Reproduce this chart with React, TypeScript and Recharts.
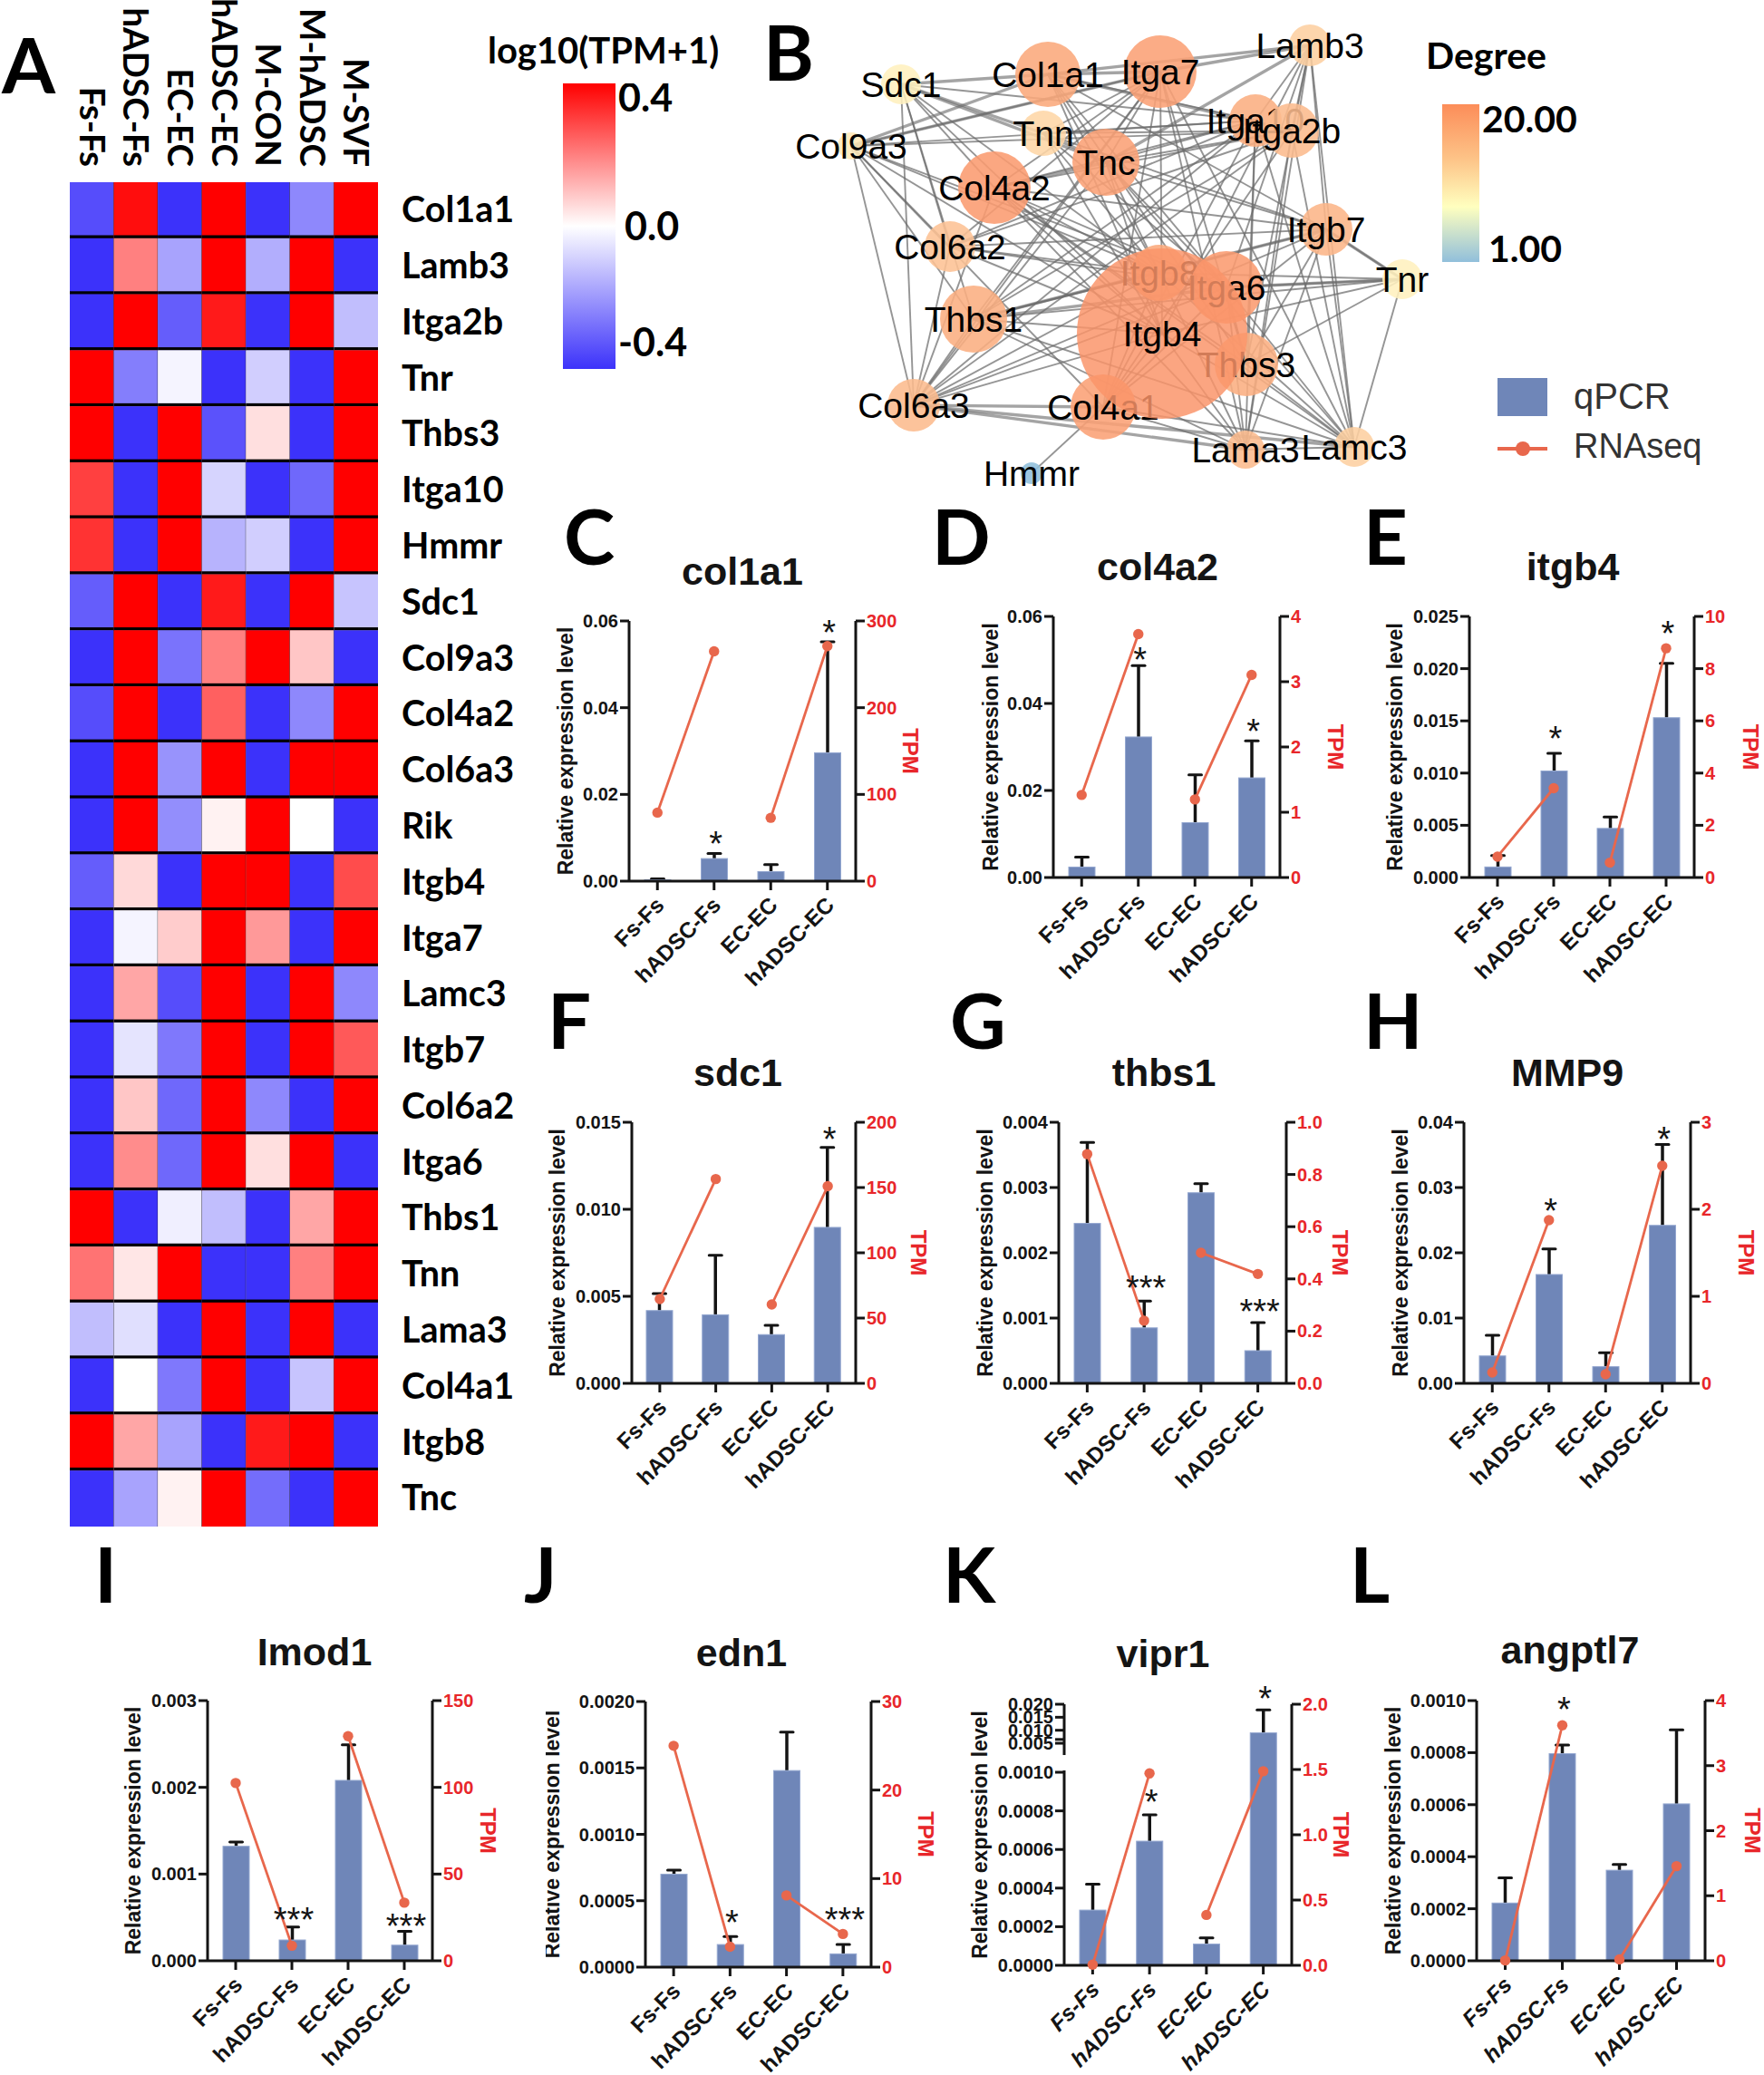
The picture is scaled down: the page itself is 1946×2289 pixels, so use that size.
import React from "react";
import {
  Bar, BarChart, ComposedChart, Line, ReferenceDot, Scatter, ScatterChart, XAxis, YAxis,
} from "recharts";

const ARIAL = '"Liberation Sans", Arial, sans-serif';
const LATO = "Lato, sans-serif";
const BAR_BLUE = "#6f86b8";
const LINE_ORANGE = "#e8674c";
const TICK_RED = "#e8262a";
const INK = "#141414";

// ---------- heatmap (panel A) ----------
const HEAT_COLUMNS = ["Fs-Fs", "hADSC-Fs", "EC-EC", "hADSC-EC", "M-CON", "M-hADSC", "M-SVF"];
const HEAT_GENES = [
  "Col1a1", "Lamb3", "Itga2b", "Tnr", "Thbs3", "Itga10", "Hmmr", "Sdc1", "Col9a3", "Col4a2", "Col6a3", "Rik",
  "Itgb4", "Itga7", "Lamc3", "Itgb7", "Col6a2", "Itga6", "Thbs1", "Tnn", "Lama3", "Col4a1", "Itgb8", "Tnc",
];
const HEAT_VALUES = [
  [-0.33, 0.38, -0.38, 0.4, -0.38, -0.22, 0.4],
  [-0.38, 0.2, -0.17, 0.4, -0.15, 0.4, -0.38],
  [-0.38, 0.4, -0.3, 0.36, -0.38, 0.4, -0.12],
  [0.4, -0.24, -0.02, -0.38, -0.09, -0.38, 0.4],
  [0.4, -0.38, 0.4, -0.32, 0.05, -0.38, 0.4],
  [0.3, -0.38, 0.4, -0.08, -0.38, -0.28, 0.4],
  [0.32, -0.38, 0.4, -0.14, -0.09, -0.38, 0.4],
  [-0.3, 0.4, -0.38, 0.36, -0.38, 0.4, -0.11],
  [-0.38, 0.4, -0.26, 0.2, 0.4, 0.09, -0.38],
  [-0.33, 0.4, -0.38, 0.25, -0.38, -0.22, 0.4],
  [-0.38, 0.4, -0.2, 0.4, -0.38, 0.4, 0.4],
  [-0.38, 0.4, -0.21, 0.02, 0.4, 0, -0.38],
  [-0.3, 0.06, -0.38, 0.4, 0.4, -0.38, 0.28],
  [-0.38, -0.02, 0.08, 0.4, 0.16, -0.38, 0.4],
  [-0.38, 0.14, -0.33, 0.4, -0.38, 0.4, -0.22],
  [-0.38, -0.05, -0.25, 0.4, -0.38, 0.4, 0.26],
  [-0.38, 0.09, -0.28, 0.4, -0.22, -0.38, 0.4],
  [-0.38, 0.18, -0.28, 0.4, 0.05, 0.4, -0.38],
  [0.4, -0.38, -0.03, -0.12, -0.38, 0.14, 0.4],
  [0.22, 0.04, 0.4, -0.38, -0.38, 0.2, 0.4],
  [-0.12, -0.06, -0.38, 0.4, -0.38, 0.4, -0.38],
  [-0.38, 0, -0.25, 0.4, -0.38, -0.11, 0.4],
  [0.4, 0.14, -0.17, -0.38, 0.36, 0.4, -0.38],
  [-0.38, -0.17, 0.02, 0.4, -0.27, -0.38, 0.4],
];
const HEAT_COLUMN_TICKS = [0.5, 1.5, 2.5, 3.5, 4.5, 5.5, 6.5];
const HEAT_LEGEND_TICKS = [0.4, 0, -0.4];
const DEGREE_LEGEND_TICKS = [20, 1];

// ---------- network (panel B) ----------
// drawn back to front, labels of lower nodes show through the upper ones
const NODE_NAMES = [
  "Sdc1", "Col9a3", "Lamb3", "Tnn", "Col1a1", "Itga7", "Itga10", "Itga2b", "Tnc", "Col4a2", "Col6a2", "Itgb7",
  "Tnr", "Thbs1", "Col6a3", "Lama3", "Lamc3", "Hmmr", "Itgb8", "Itga6", "Thbs3", "Col4a1", "Itgb4",
];
const NODE_X = [994, 939, 1445, 1151, 1156, 1280, 1385, 1425, 1220, 1097, 1048, 1463, 1547, 1074, 1008, 1374, 1494, 1138, 1279, 1353, 1375, 1217, 1282];
const NODE_Y = [93, 161, 50, 147, 82, 79, 133, 144, 179, 207, 272, 253, 308, 352, 447, 496, 493, 522, 301, 317, 402, 449, 368];
const NODE_SIZE = [22, 15, 23, 25, 36, 40, 29, 30, 37, 40, 28, 29, 22, 37, 29, 21, 22, 12, 31, 40, 35, 36, 94];
const NODE_DEGREE = [6, 7, 11, 10, 17, 18, 16, 14, 18, 19, 13, 15, 6, 16, 14, 14, 11, 1, 17, 19, 16, 18, 20];
const EDGES_LIGHT: [string, string[]][] = [
  ["Itga7", ["Col9a3", "Tnn", "Tnc", "Col4a2", "Col6a2", "Thbs1", "Thbs3", "Col6a3", "Col4a1", "Lama3", "Lamc3"]],
  ["Itga10", ["Col1a1", "Lamb3", "Col9a3", "Tnn", "Tnc", "Col4a2", "Col6a2", "Thbs1", "Thbs3", "Col6a3", "Col4a1", "Lama3", "Lamc3"]],
  ["Itga2b", ["Lamb3", "Col9a3", "Tnn", "Tnc", "Col4a2", "Col6a2", "Thbs1", "Col6a3", "Col4a1", "Lama3", "Lamc3"]],
  ["Itgb7", ["Col1a1", "Lamb3", "Tnn", "Tnc", "Tnr", "Col4a2", "Col6a2", "Thbs1", "Thbs3", "Col6a3", "Col4a1", "Lama3", "Lamc3"]],
  ["Itgb8", ["Col1a1", "Col9a3", "Tnn", "Tnc", "Tnr", "Col4a2", "Col6a2", "Thbs1", "Col6a3", "Col4a1", "Lama3", "Lamc3", "Sdc1"]],
  ["Itga6", ["Col1a1", "Lamb3", "Col9a3", "Tnn", "Tnc", "Tnr", "Col4a2", "Col6a2", "Thbs3", "Col6a3", "Col4a1", "Lama3", "Lamc3"]],
  ["Itgb4", ["Col1a1", "Lamb3", "Col9a3", "Tnn", "Tnc", "Tnr", "Col4a2", "Col6a2", "Thbs1", "Col6a3", "Col4a1", "Lama3", "Lamc3", "Sdc1", "Itga7"]],
  ["Sdc1", ["Col6a3", "Col4a2", "Col6a2", "Thbs1", "Itga10"]],
  ["Col9a3", ["Col6a3", "Col6a2", "Thbs1", "Col4a1"]],
  ["Lamc3", ["Lamb3", "Tnr", "Col4a1", "Col4a2", "Tnc", "Thbs1", "Thbs3"]],
  ["Lama3", ["Lamb3", "Col4a1", "Col4a2", "Lamc3", "Thbs1"]],
  ["Col6a3", ["Thbs1", "Col6a2", "Col4a2", "Tnc"]],
  ["Tnr", ["Thbs1", "Thbs3"]],
  ["Thbs3", ["Col4a2", "Col1a1", "Lamb3"]],
  ["Hmmr", ["Col4a1"]],
];
const EDGES_HEAVY: [string, string[]][] = [
  ["Col9a3", ["Col1a1", "Itga7"]],
  ["Sdc1", ["Col1a1", "Tnc", "Tnn"]],
  ["Lamb3", ["Col1a1", "Itga7", "Tnc"]],
  ["Col1a1", ["Itga7", "Itga2b"]],
  ["Col6a3", ["Col4a1", "Lama3", "Lamc3"]],
  ["Thbs1", ["Itga6", "Itgb7"]],
  ["Tnr", ["Itga6", "Itgb7"]],
  ["Tnc", ["Col4a2", "Tnn"]],
];

// ---------- bar / line panels ----------
const GROUPS = ["Fs-Fs", "hADSC-Fs", "EC-EC", "hADSC-EC"];

const COL1A1_QPCR = [0.0003, 0.0052, 0.0022, 0.0296];
const COL1A1_ERR = [0.0002, 0.0012, 0.0016, 0.0256];
const COL1A1_RNA = [79, 265, 73, 271];

const COL4A2_QPCR = [0.0024, 0.0323, 0.0126, 0.0229];
const COL4A2_ERR = [0.0023, 0.0164, 0.011, 0.0085];
const COL4A2_RNA = [1.265, 3.73, 1.196, 3.105];

const ITGB4_QPCR = [0.00101, 0.0102, 0.0047, 0.0153];
const ITGB4_ERR = [0.0011, 0.0017, 0.0011, 0.0052];
const ITGB4_RNA = [0.8, 3.42, 0.57, 8.78];

const SDC1_QPCR = [0.00418, 0.00394, 0.0028, 0.00896];
const SDC1_ERR = [0.00098, 0.00342, 0.00053, 0.0046];
const SDC1_RNA = [64.6, 156.5, 60.4, 151];

const THBS1_QPCR = [0.00245, 0.00085, 0.00292, 0.0005];
const THBS1_ERR = [0.00124, 0.00041, 0.00014, 0.00043];
const THBS1_RNA = [0.878, 0.24, 0.5, 0.419];

const MMP9_QPCR = [0.0042, 0.01667, 0.00255, 0.0242];
const MMP9_ERR = [0.00316, 0.00393, 0.00215, 0.0124];
const MMP9_RNA = [0.125, 1.875, 0.104, 2.5];

const IMOD1_QPCR = [0.00132, 0.00024, 0.00208, 0.00018];
const IMOD1_ERR = [0.00005, 0.00015, 0.00041, 0.00016];
const IMOD1_RNA = [102.5, 8.7, 129.5, 33.5];

const EDN1_QPCR = [0.0007, 0.00017, 0.00148, 0.0001];
const EDN1_ERR = [0.00003, 0.00006, 0.00029, 0.00007];
const EDN1_RNA = [25, 2.3, 8.1, 3.75];

const VIPR1_QPCR = [0.000286, 0.000643, 0.00011, 0.009];
const VIPR1_ERR = [0.000134, 0.000137, 0.000032, 0.0088];
const VIPR1_RNA = [0.005, 1.47, 0.386, 1.487];

const ANGPTL7_QPCR = [0.000222, 0.000796, 0.000348, 0.000603];
const ANGPTL7_ERR = [0.000097, 0.000033, 0.000022, 0.000285];
const ANGPTL7_RNA = [0.005, 3.62, 0.02, 1.455];

// vipr1 has a broken left axis: below the break 0.001 = 213 px, above it the scale is compressed
const breakY = (v: number) => (v <= 0.00117 ? v * 213000 : 234 + (v - 0.00117) * 2870);
const VIPR1_TICKS = [0, 0.0002, 0.0004, 0.0006, 0.0008, 0.001, 0.00117, 0.005, 0.01, 0.015, 0.02];
const VIPR1_TICK_LABELS = ["0.0000", "0.0002", "0.0004", "0.0006", "0.0008", "0.0010", "", "0.005", "0.010", "0.015", "0.020"];

const range = (values: number[], digits: number) => ({ ticks: values, labels: values.map((v) => v.toFixed(digits)) });

const PANELS: any[] = [
  { title: "col1a1", qpcr: COL1A1_QPCR, err: COL1A1_ERR, rna: COL1A1_RNA, left: range([0, 0.02, 0.04, 0.06], 2), right: range([0, 100, 200, 300], 0),
    stars: [[1, 0.0104, "*"], [3, 0.059, "*"]], box: [694, 944, 685, 972], relDx: -70, tpmDx: 61, titleX: 819, titleY: 645 },
  { title: "col4a2", qpcr: COL4A2_QPCR, err: COL4A2_ERR, rna: COL4A2_RNA, left: range([0, 0.02, 0.04, 0.06], 2), right: range([0, 1, 2, 3, 4], 0),
    stars: [[1, 0.0518, "*"], [3, 0.0353, "*"]], box: [1162, 1412, 680, 968], relDx: -69, tpmDx: 62, titleX: 1277, titleY: 640 },
  { title: "itgb4", qpcr: ITGB4_QPCR, err: ITGB4_ERR, rna: ITGB4_RNA, left: range([0, 0.005, 0.01, 0.015, 0.02, 0.025], 3), right: range([0, 2, 4, 6, 8, 10], 0),
    stars: [[1, 0.014, "*"], [3, 0.0241, "*"]], box: [1621, 1869, 680, 968], relDx: -82, tpmDx: 63, titleX: 1735, titleY: 640 },
  { title: "sdc1", qpcr: SDC1_QPCR, err: SDC1_ERR, rna: SDC1_RNA, left: range([0, 0.005, 0.01, 0.015], 3), right: range([0, 50, 100, 150, 200], 0),
    stars: [[3, 0.01444, "*"]], box: [697, 944, 1238, 1526], relDx: -82, tpmDx: 70, titleX: 814, titleY: 1198 },
  { title: "thbs1", qpcr: THBS1_QPCR, err: THBS1_ERR, rna: THBS1_RNA, left: range([0, 0.001, 0.002, 0.003, 0.004], 3), right: range([0, 0.2, 0.4, 0.6, 0.8, 1], 1),
    stars: [[1, 0.00158, "***"], [3, 0.00121, "***"]], box: [1168, 1419, 1238, 1526], relDx: -81, tpmDx: 60, titleX: 1284, titleY: 1198 },
  { title: "MMP9", qpcr: MMP9_QPCR, err: MMP9_ERR, rna: MMP9_RNA, left: range([0, 0.01, 0.02, 0.03, 0.04], 2), right: range([0, 1, 2, 3], 0),
    stars: [[1, 0.0276, "*"], [3, 0.0385, "*"]], box: [1615, 1865, 1238, 1526], relDx: -70, tpmDx: 62, titleX: 1729, titleY: 1198 },
  { title: "Imod1", qpcr: IMOD1_QPCR, err: IMOD1_ERR, rna: IMOD1_RNA, left: range([0, 0.001, 0.002, 0.003], 3), right: range([0, 50, 100, 150], 0),
    stars: [[1, 0.00056, "***"], [3, 0.00049, "***"]], box: [229, 477, 1876, 2163], relDx: -82, tpmDx: 62, titleX: 347, titleY: 1837 },
  { title: "edn1", qpcr: EDN1_QPCR, err: EDN1_ERR, rna: EDN1_RNA, left: range([0, 0.0005, 0.001, 0.0015, 0.002], 4), right: range([0, 10, 20, 30], 0),
    stars: [[1, 0.00039, "*"], [3, 0.00041, "***"]], box: [712, 961, 1877, 2170], relDx: -103, tpmDx: 61, titleX: 818, titleY: 1838 },
  { title: "vipr1", qpcr: VIPR1_QPCR, err: VIPR1_ERR, rna: VIPR1_RNA, left: { ticks: VIPR1_TICKS, labels: VIPR1_TICK_LABELS }, right: range([0, 0.5, 1, 1.5, 2], 1),
    stars: [[1, 0.000883, "*"], [3, 0.0249, "*"]], box: [1174, 1425, 1880, 2168], relDx: -93, tpmDx: 55, titleX: 1283, titleY: 1839, yMap: breakY, leftMax: 0.02, italic: true, breakAt: "0.0010" },
  { title: "angptl7", qpcr: ANGPTL7_QPCR, err: ANGPTL7_ERR, rna: ANGPTL7_RNA, left: range([0, 0.0002, 0.0004, 0.0006, 0.0008, 0.001], 4), right: range([0, 1, 2, 3, 4], 0),
    stars: [[1, 0.000993, "*"]], box: [1629, 1881, 1876, 2163], relDx: -92, tpmDx: 53, titleX: 1732, titleY: 1835, italic: true },
];

const PANEL_LETTERS: [string, number, number][] = [
  ["A", 2, 103], ["B", 842, 89], ["C", 622, 623], ["D", 1028, 623], ["E", 1504, 623], ["F", 604, 1157],
  ["G", 1048, 1157], ["H", 1504, 1157], ["I", 104, 1768], ["J", 578, 1768], ["K", 1040, 1768], ["L", 1489, 1768],
];

// ---------- colours ----------
const mix = (a: number[], b: number[], t: number) => {
  const k = Math.max(0, Math.min(1, t));
  return `rgb(${a.map((c, i) => Math.round(c + (b[i] - c) * k)).join(",")})`;
};
const heatColor = (v: number) =>
  v >= 0 ? mix([255, 255, 255], [255, 0, 0], v / 0.4) : mix([255, 255, 255], [60, 50, 250], -v / 0.38);
const nodeColor = (degree: number) =>
  degree <= 6 ? mix([145, 191, 219], [255, 240, 190], (degree - 1) / 5) : mix([255, 240, 190], [250, 148, 105], (degree - 6) / 14);

// ---------- heatmap ----------
const HeatCell = ({ x, y, width, height, index, column }: any) => (
  <g>
    <rect x={x} y={y} width={width} height={height} fill={heatColor(HEAT_VALUES[index][column])} />
    {column < 6 && <line x1={x + width} x2={x + width} y1={y} y2={y + height} stroke="#222" strokeOpacity={0.75} />}
    {index < HEAT_GENES.length - 1 && <rect x={x} y={y + height - 3.5} width={width} height={3.5} fill="#000" />}
  </g>
);

const HeatColumnTick = ({ x, y, payload }: any) => (
  <text
    transform={`rotate(90 ${x} ${y - 17})`}
    x={x} y={y - 17} dy="0.35em"
    textAnchor="end" fontFamily={LATO} fontWeight={700} fontSize={38.5} fill="#000"
  >
    {HEAT_COLUMNS[payload.value - 0.5]}
  </text>
);

function Heatmap() {
  const rows = HEAT_GENES.map((gene) => {
    const row: any = { gene };
    HEAT_COLUMNS.forEach((_, j) => { row[`c${j}`] = 1; });
    return row;
  });
  return (
    <div style={{ position: "absolute", left: 0, top: 0 }}>
      <BarChart width={620} height={1684} data={rows} layout="vertical" barCategoryGap={0} margin={{ top: 0, right: 0, bottom: 0, left: 77 }}>
        <XAxis
          type="number" orientation="top" height={201} domain={[0, 7]} ticks={HEAT_COLUMN_TICKS}
          axisLine={false} tickLine={false} tickSize={0} tickMargin={0} tick={(p: any) => <HeatColumnTick {...p} />} interval={0}
        />
        <YAxis
          type="category" dataKey="gene" orientation="right" width={203} interval={0}
          axisLine={false} tickLine={false} tickSize={0} tickMargin={26}
          tick={({ x, y, payload }: any) => (
            <text x={x} y={y - 0.5} dy="0.35em" fontFamily={LATO} fontWeight={700} fontSize={39.5} fill="#000">{payload.value}</text>
          )}
        />
        {HEAT_COLUMNS.map((_, j) => (
          <Bar key={j} dataKey={`c${j}`} stackId="heat" isAnimationActive={false}
            shape={(p: any) => <HeatCell {...p} column={j} />} />
        ))}
      </BarChart>
    </div>
  );
}

// ---------- colour bars ----------
function ColorBar({ id, stops, domain, ticks, box, digits, tickX, tickY, fontSize }: any) {
  const [x0, x1, y0, y1] = box;
  const data = [{ name: id, span: domain }];
  return (
    <div style={{ position: "absolute", left: x0, top: y0 }}>
      <BarChart width={x1 - x0 + 140} height={y1 - y0} data={data} barCategoryGap={0} margin={{ top: 0, right: 0, bottom: 0, left: 0 }}>
        <defs>
          <linearGradient id={id} x1="0" y1="0" x2="0" y2="1">
            {stops.map(([offset, color]: any) => <stop key={offset} offset={offset} stopColor={color} />)}
          </linearGradient>
        </defs>
        <XAxis dataKey="name" hide />
        <YAxis
          orientation="right" width={140} type="number" domain={domain} ticks={ticks} interval={0}
          axisLine={false} tickLine={false}
          tick={({ y, payload, x }: any) => (
            <text x={x - 5 + tickX(payload.value)} y={y + tickY(payload.value)} dy="0.35em" fontFamily={LATO} fontWeight={700} fontSize={fontSize} fill="#000">
              {payload.value.toFixed(digits)}
            </text>
          )}
        />
        <Bar dataKey="span" fill={`url(#${id})`} isAnimationActive={false} />
      </BarChart>
    </div>
  );
}

// ---------- network ----------
const NetworkNode = ({ cx, cy, payload }: any) => (
  <g>
    <circle cx={cx} cy={cy} r={payload.size} fill={nodeColor(payload.degree)} fillOpacity={payload.name === "Itgb4" ? 0.84 : 0.88} />
    <text x={cx} y={cy} dy="0.35em" textAnchor="middle" fontFamily={ARIAL} fontSize={39} fill="#000">{payload.name}</text>
  </g>
);

function Network() {
  const nodes = NODE_NAMES.map((name, i) => ({ name, x: NODE_X[i], y: NODE_Y[i], size: NODE_SIZE[i], degree: NODE_DEGREE[i] }));
  const find = (name: string) => nodes.find((n) => n.name === name);
  const expand = (list: [string, string[]][]) =>
    list.flatMap(([source, targets]) => targets.map((t) => [find(source), find(t)]));
  const edgeSeries = (list: [string, string[]][], width: number, opacity: number, prefix: string) =>
    expand(list).map((pair, i) => (
      <Scatter key={`${prefix}${i}`} data={pair} isAnimationActive={false} legendType="none"
        line={{ stroke: "#6c6c6c", strokeWidth: width, strokeOpacity: opacity }} shape={() => <g />} />
    ));
  return (
    <div style={{ position: "absolute", left: 850, top: 0 }}>
      <ScatterChart width={760} height={560} margin={{ top: 0, right: 0, bottom: 0, left: 0 }}>
        <XAxis type="number" dataKey="x" domain={[850, 1610]} hide />
        <YAxis type="number" dataKey="y" domain={[0, 560]} reversed hide />
        {edgeSeries(EDGES_LIGHT, 1.9, 0.72, "light")}
        {edgeSeries(EDGES_HEAVY, 3.4, 0.62, "heavy")}
        <Scatter data={nodes} isAnimationActive={false} shape={(p: any) => <NetworkNode {...p} />} />
      </ScatterChart>
    </div>
  );
}

// ---------- qPCR + RNAseq panel ----------
const ExpressionBar = ({ x, y, width, height, payload }: any) => {
  const perUnit = payload.qpcr > 0 ? height / payload.qpcr : 0;
  const top = y + height - payload.whisker * perUnit;
  const mid = x + width / 2;
  return (
    <g>
      <line x1={mid} x2={mid} y1={y} y2={top} stroke={INK} strokeWidth={3.5} />
      <line x1={mid - 7} x2={mid + 7} y1={top} y2={top} stroke={INK} strokeWidth={3} strokeLinecap="round" />
      <rect x={x} y={y} width={width} height={height} fill={BAR_BLUE} stroke="#94a7d0" strokeWidth={1} />
    </g>
  );
};

function ExpressionPanel({ panel }: any) {
  const { qpcr, err, rna, left, right, stars, box, relDx, tpmDx, yMap, italic, breakAt } = panel;
  const [x0, x1, y0, y1] = box;
  const map = yMap || ((v: number) => v);
  const leftTicks = left.ticks.map(map);
  const leftMax = map(panel.leftMax ?? left.ticks[left.ticks.length - 1]);
  const rows = GROUPS.map((group, i) => ({
    group,
    qpcr: map(qpcr[i]),
    whisker: map(qpcr[i] + err[i]),
    rnaA: i < 2 ? rna[i] : null,
    rnaB: i >= 2 ? rna[i] : null,
  }));
  const axisW = 110;
  const topPad = 30;
  const bottomH = 160;
  const lineProps = {
    yAxisId: "right", type: "linear" as const, stroke: LINE_ORANGE, strokeWidth: 2.8, connectNulls: false,
    dot: { r: 5.7, fill: LINE_ORANGE, stroke: "none" }, isAnimationActive: false,
  };
  return (
    <div style={{ position: "absolute", left: x0 - axisW, top: y0 - topPad }}>
      <ComposedChart width={x1 - x0 + 2 * axisW} height={y1 - y0 + topPad + bottomH} data={rows} margin={{ top: topPad, right: 0, bottom: 0, left: 0 }}>
        <XAxis
          dataKey="group" height={bottomH} interval={0} stroke={INK} strokeWidth={3} tickSize={10}
          tick={({ x, y, payload }: any) => (
            <text transform={`rotate(-45 ${x + 9} ${y + 16})`} x={x + 9} y={y + 16} textAnchor="end"
              fontFamily={ARIAL} fontWeight={700} fontStyle={italic ? "italic" : "normal"} fontSize={24.5} fill={INK}>
              {payload.value}
            </text>
          )}
        />
        <YAxis
          yAxisId="left" width={axisW} type="number" domain={[0, leftMax]} ticks={leftTicks} interval={0}
          stroke={INK} strokeWidth={3} tickSize={10}
          tick={({ x, y, index }: any) => (
            <g>
              {left.labels[index] === breakAt && <rect x={x + 8} y={y - 19} width={8} height={17} fill="#fff" />}
              <text x={x} y={y} dy="0.35em" textAnchor="end" fontFamily={ARIAL} fontWeight={700} fontSize={20} fill={INK}>
                {left.labels[index]}
              </text>
            </g>
          )}
          label={{ value: "Relative expression level", angle: -90, position: "center", dx: relDx + axisW / 2, fontFamily: ARIAL, fontWeight: 700, fontSize: 23, fill: INK }}
        />
        <YAxis
          yAxisId="right" orientation="right" width={axisW} type="number" domain={[0, right.ticks[right.ticks.length - 1]]} ticks={right.ticks} interval={0}
          stroke={INK} strokeWidth={3} tickSize={10}
          tick={({ x, y, index }: any) => (
            <text x={x} y={y} dy="0.35em" textAnchor="start" fontFamily={ARIAL} fontWeight={700} fontSize={20} fill={TICK_RED}>
              {right.labels[index]}
            </text>
          )}
          label={{ value: "TPM", angle: 90, position: "center", dx: tpmDx - axisW / 2, fontFamily: ARIAL, fontWeight: 700, fontSize: 24, fill: TICK_RED }}
        />
        <Bar yAxisId="left" dataKey="qpcr" barSize={29} isAnimationActive={false} shape={(p: any) => <ExpressionBar {...p} />} />
        <Line {...lineProps} dataKey="rnaA" />
        <Line {...lineProps} dataKey="rnaB" />
        {stars.map(([group, value, text]: any) => (
          <ReferenceDot key={group} yAxisId="left" x={GROUPS[group]} y={map(value)} r={0} ifOverflow="visible"
            label={{ value: text, position: "center", dy: 8, dx: 2, fontFamily: ARIAL, fontSize: 38, fill: INK }} />
        ))}
      </ComposedChart>
    </div>
  );
}

// ---------- page ----------
export default function App() {
  return (
    <div style={{ position: "absolute", left: 0, top: 0, width: 1946, height: 2289, background: "#fff", overflow: "hidden" }}>
      <Heatmap />
      <ColorBar id="heatGrad" box={[621, 679, 92, 407]} domain={[-0.486, 0.447]} ticks={HEAT_LEGEND_TICKS} digits={1} fontSize={43}
        tickX={(v: number) => (v === 0 ? 7 : 0)} tickY={(v: number) => (v === 0 ? 7 : 0)}
        stops={[["0", "#ff0000"], ["0.5", "#ffffff"], ["1", "#3c32fa"]]} />
      <Network />
      <ColorBar id="degreeGrad" box={[1591, 1632, 115, 289]} domain={[-1, 22.1]} ticks={DEGREE_LEGEND_TICKS} digits={2} fontSize={41}
        tickX={(v: number) => (v === 1 ? 7 : 0)} tickY={() => 1}
        stops={[["0", "#fc8d59"], ["0.35", "#fdc488"], ["0.65", "#ffffbf"], ["1", "#91bfdb"]]} />
      {PANELS.map((panel) => <ExpressionPanel key={panel.title} panel={panel} />)}

      <svg width={1946} height={2289} style={{ position: "absolute", left: 0, top: 0, pointerEvents: "none" }}>
        {PANEL_LETTERS.map(([letter, x, y]) => (
          <text key={letter} x={x} y={y} fontFamily={LATO} fontWeight={700} fontSize={85} fill="#000">{letter}</text>
        ))}
        {PANELS.map((p) => (
          <text key={p.title} x={p.titleX} y={p.titleY} textAnchor="middle" fontFamily={ARIAL} fontWeight={700} fontSize={43} fill={INK}>{p.title}</text>
        ))}
        <text x={538} y={70} fontFamily={LATO} fontWeight={700} fontSize={40} fill="#000">log10(TPM+1)</text>
        <text x={1573} y={76} fontFamily={LATO} fontWeight={700} fontSize={41} fill="#000">Degree</text>
        <rect x={1652} y={417} width={55} height={42} fill={BAR_BLUE} />
        <line x1={1652} x2={1707} y1={495} y2={495} stroke={LINE_ORANGE} strokeWidth={4} />
        <circle cx={1680} cy={495} r={8} fill={LINE_ORANGE} />
        <text x={1736} y={451} fontFamily={ARIAL} fontSize={40} fill="#333">qPCR</text>
        <text x={1736} y={505} fontFamily={ARIAL} fontSize={38} fill="#333">RNAseq</text>
      </svg>
    </div>
  );
}
